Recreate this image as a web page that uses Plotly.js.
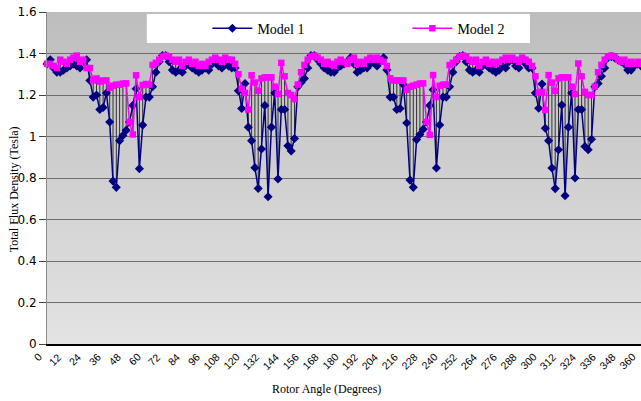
<!DOCTYPE html>
<html><head><meta charset="utf-8">
<script src="https://cdn.plot.ly/plotly-3.0.1.min.js"></script>
<style>
html,body{margin:0;padding:0;background:#fff;}
#wrap{position:relative;width:641px;height:401px;overflow:hidden;}
#bg{position:absolute;left:47px;top:12px;width:594px;height:332px;background:linear-gradient(to bottom,#bdbdbd,#e3e3e3);}
#chart{position:absolute;left:0;top:0;width:641px;height:401px;}
</style></head><body>
<div id="wrap"><div id="bg"></div><div id="chart"></div></div>
<script>
// Rotor angle categories (degrees), every 2 degrees from 0 to 360
var angles = [];
for (var a = 0; a <= 360; a += 2) angles.push(a);

var tickVals = [0,12,24,36,48,60,72,84,96,108,120,132,144,156,168,180,192,204,216,228,240,252,264,276,288,300,312,324,336,348,360];
var tickText = ["0","12","24","36","48","60","72","84","96","108","120","132","144","156","168","180","192","204","216","228","240","252","264","276","288","300","312","324","336","348","360"];

// Model 1 total flux density (Tesla)
var model1 = [
1.35,1.37,1.33,1.31,1.31,1.32,1.33,1.34,1.35,1.34,
1.33,1.36,1.37,1.27,1.19,1.20,1.13,1.14,1.21,1.07,
0.785,0.755,0.98,1.005,1.03,1.07,1.15,1.23,0.845,1.055,
1.19,1.19,1.24,1.31,1.36,1.39,1.39,1.36,1.32,1.31,
1.32,1.31,1.34,1.35,1.33,1.32,1.31,1.32,1.33,1.32,
1.35,1.36,1.34,1.33,1.37,1.34,1.33,1.33,1.22,1.135,
1.255,1.045,0.98,0.85,0.75,0.94,1.15,0.71,1.045,1.21,
0.795,1.13,1.13,0.955,0.93,0.99,1.24,1.26,1.28,1.33,
1.39,1.39,1.37,1.35,1.33,1.32,1.31,1.31,1.33,1.34,
1.35,1.36,1.38,1.35,1.31,1.32,1.33,1.33,1.35,1.36,
1.34,1.36,1.38,1.32,1.19,1.19,1.13,1.135,1.25,1.065,
0.79,0.755,0.985,1.01,1.035,1.07,1.15,1.225,0.848,1.056,
1.19,1.19,1.24,1.31,1.36,1.385,1.39,1.36,1.32,1.31,
1.32,1.31,1.34,1.35,1.33,1.32,1.31,1.32,1.34,1.33,
1.36,1.37,1.34,1.33,1.37,1.35,1.33,1.33,1.21,1.136,
1.253,1.04,0.98,0.848,0.749,0.936,1.152,0.715,1.045,1.21,
0.80,1.13,1.13,0.952,0.936,0.987,1.24,1.256,1.29,1.33,
1.38,1.385,1.38,1.37,1.36,1.35,1.32,1.32,1.34,1.35,
1.34
];

// Model 2 total flux density (Tesla)
var model2 = [
1.35,1.35,1.34,1.33,1.37,1.36,1.35,1.37,1.38,1.39,
1.36,1.37,1.33,1.33,1.27,1.28,1.265,1.27,1.27,1.235,
1.245,1.25,1.25,1.255,1.256,1.07,1.01,1.295,1.19,1.248,
1.253,1.25,1.345,1.355,1.37,1.385,1.39,1.385,1.37,1.36,
1.37,1.34,1.36,1.37,1.35,1.36,1.34,1.35,1.34,1.36,
1.37,1.38,1.37,1.36,1.38,1.37,1.37,1.35,1.30,1.23,
1.21,1.13,1.295,1.26,1.22,1.28,1.285,1.285,1.285,1.24,
1.205,1.355,1.29,1.21,1.20,1.18,1.25,1.31,1.345,1.37,
1.385,1.39,1.38,1.37,1.35,1.36,1.35,1.34,1.36,1.37,
1.36,1.35,1.37,1.38,1.35,1.36,1.35,1.37,1.38,1.37,
1.38,1.37,1.36,1.34,1.28,1.27,1.27,1.27,1.27,1.225,
1.24,1.245,1.25,1.255,1.256,1.07,1.008,1.296,1.19,1.245,
1.25,1.25,1.344,1.355,1.37,1.385,1.39,1.385,1.37,1.36,
1.37,1.34,1.36,1.37,1.35,1.36,1.35,1.36,1.37,1.38,
1.37,1.38,1.37,1.36,1.38,1.37,1.36,1.34,1.29,1.21,
1.215,1.128,1.296,1.26,1.22,1.28,1.285,1.285,1.285,1.24,
1.205,1.352,1.29,1.215,1.20,1.20,1.24,1.31,1.345,1.37,
1.385,1.39,1.385,1.37,1.36,1.37,1.35,1.36,1.35,1.36,
1.35
];

// high-low (drop) lines between the two series
var dropX = [], dropY = [];
for (var i = 0; i < angles.length; i++) {
  dropX.push(angles[i], angles[i], null);
  dropY.push(model1[i], model2[i], null);
}

var traces = [
  {x: dropX, y: dropY, type: 'scatter', mode: 'lines', showlegend: false, hoverinfo: 'skip',
   line: {color: '#333333', width: 1}},
  {x: angles, y: model1, type: 'scatter', mode: 'lines+markers', name: 'Model 1', cliponaxis: false,
   line: {color: '#000080', width: 1.5},
   marker: {symbol: 'diamond', size: 7, color: '#000080'}},
  {x: angles, y: model2, type: 'scatter', mode: 'lines+markers', name: 'Model 2', cliponaxis: false,
   line: {color: '#ff00ff', width: 1.5},
   marker: {symbol: 'square', size: 6.5, color: '#ff00ff'}}
];

// rotated category labels under the x axis, placed through the x scale
var annots = tickVals.map(function (v, k) {
  return {text: tickText[k], x: v, xref: 'x', y: 0, yref: 'paper', yshift: -4,
          xanchor: 'right', yanchor: 'top', textangle: -45, showarrow: false,
          font: {family: 'Liberation Sans', size: 10.5, color: '#000'}};
});
annots.push(
  {text: 'Total Flux Density (Tesla)', xref: 'paper', yref: 'paper', x: -0.056, y: 0.465,
   xanchor: 'center', yanchor: 'middle', textangle: -90, showarrow: false,
   font: {family: 'Liberation Serif', size: 12, color: '#000'}},
  {text: 'Rotor Angle (Degrees)', xref: 'paper', yref: 'paper', x: 0.47, y: -0.135,
   xanchor: 'center', yanchor: 'middle', showarrow: false,
   font: {family: 'Liberation Serif', size: 12, color: '#000'}}
);

var layout = {
  width: 641, height: 401,
  margin: {l: 47, r: 0, t: 12, b: 57},
  paper_bgcolor: 'rgba(0,0,0,0)',
  plot_bgcolor: 'rgba(0,0,0,0)',
  showlegend: true,
  xaxis: {
    range: [0, 360], tickvals: tickVals, showticklabels: false,
    showgrid: false, zeroline: false,
    showline: true, linecolor: '#000000', linewidth: 1.5, ticks: ''
  },
  yaxis: {
    range: [0, 1.6], dtick: 0.2, tick0: 0,
    showgrid: true, gridcolor: '#6e6e6e', gridwidth: 1, zeroline: false,
    showline: true, linecolor: '#8a8a8a', linewidth: 1,
    ticks: 'outside', ticklen: 7, tickcolor: '#444', tickwidth: 1,
    tickfont: {family: 'DejaVu Sans', size: 12, color: '#000'}
  },
  legend: {
    orientation: 'h', x: 0.27, y: 0.95, xanchor: 'left', yanchor: 'middle',
    bgcolor: 'rgba(0,0,0,0)', borderwidth: 0, itemwidth: 40,
    font: {family: 'Liberation Serif', size: 14, color: '#000'},
    entrywidth: 145, entrywidthmode: 'pixels'
  },
  shapes: [
    {type: 'rect', xref: 'paper', yref: 'paper', x0: 0.168, x1: 0.813, y0: 0.907, y1: 0.994,
     fillcolor: '#ffffff', line: {width: 0}, layer: 'below'}
  ],
  annotations: annots
};

Plotly.newPlot('chart', traces, layout, {displayModeBar: false, staticPlot: true});
</script>
</body></html>
